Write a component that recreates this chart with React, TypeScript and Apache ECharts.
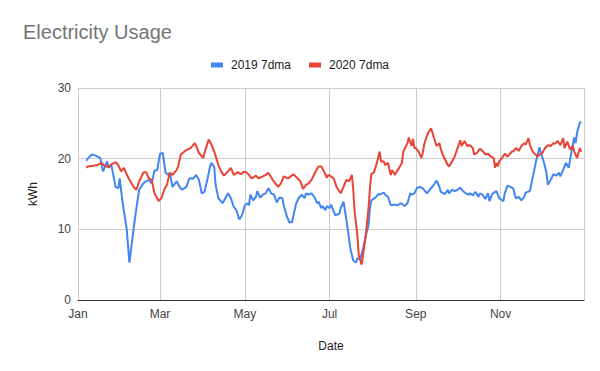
import React, { useEffect, useRef } from "react";
import * as echarts from "echarts";

// Day-of-year offsets (0 = Jan 1) and 7-day moving average values (kWh)
const days2019 = [6, 7, 10, 13, 16, 18, 21, 22, 24, 27, 29, 30, 32, 35, 37, 40, 42, 44, 47, 49, 51, 53, 55, 57, 59, 61, 63, 65, 66, 68, 71, 73, 75, 78, 80, 83, 85, 87, 89, 91, 93, 95, 96, 98, 99, 101, 104, 106, 108, 110, 112, 114, 116, 118, 120, 122, 123, 124, 126, 128, 129, 131, 133, 135, 137, 139, 141, 143, 145, 147, 148, 150, 152, 154, 155, 157, 159, 161, 163, 164, 166, 168, 170, 172, 173, 175, 176, 178, 179, 181, 182, 184, 185, 188, 189, 191, 192, 194, 196, 198, 200, 201, 203, 205, 207, 209, 210, 211, 214, 216, 217, 220, 221, 223, 225, 228, 230, 232, 235, 237, 239, 240, 242, 244, 246, 248, 251, 253, 256, 258, 260, 261, 264, 266, 267, 269, 271, 273, 275, 277, 279, 281, 282, 284, 286, 288, 289, 291, 293, 295, 296, 298, 300, 301, 303, 306, 307, 309, 311, 313, 315, 317, 319, 321, 322, 325, 326, 328, 330, 332, 333, 335, 337, 338, 340, 342, 344, 346, 347, 349, 351, 353, 355, 357, 358, 359, 361, 362];
const kwh2019 = [19.7, 20.0, 20.6, 20.4, 20.1, 18.2, 19.6, 18.7, 19.1, 16.0, 15.8, 17.2, 13.9, 10.1, 5.3, 10.1, 13.0, 15.6, 16.5, 16.8, 17.0, 16.5, 18.3, 18.4, 20.7, 20.8, 18.0, 17.7, 18.0, 16.0, 16.8, 16.0, 15.6, 16.0, 17.2, 17.2, 17.7, 17.0, 15.1, 15.3, 17.0, 18.9, 19.4, 18.8, 16.3, 14.4, 13.7, 14.4, 15.1, 14.4, 13.2, 12.7, 11.4, 12.0, 13.4, 13.7, 13.4, 14.9, 14.1, 14.6, 15.4, 14.5, 14.9, 15.1, 15.8, 15.1, 14.9, 13.8, 14.5, 14.4, 13.4, 12.0, 11.0, 11.0, 12.0, 13.7, 14.5, 14.9, 14.4, 15.1, 14.9, 15.1, 14.6, 13.7, 13.9, 13.0, 13.3, 12.7, 13.3, 13.0, 13.5, 12.5, 12.0, 12.2, 13.0, 13.9, 12.7, 10.1, 7.2, 5.6, 5.3, 5.9, 5.8, 7.2, 9.1, 10.6, 13.0, 14.1, 14.5, 15.0, 14.9, 15.2, 14.9, 14.6, 13.4, 13.5, 13.4, 13.7, 13.3, 13.7, 15.1, 14.9, 15.1, 15.9, 16.0, 15.8, 15.1, 15.6, 16.3, 16.9, 16.0, 15.3, 15.0, 15.6, 15.1, 15.6, 15.4, 15.6, 15.9, 15.4, 15.1, 14.9, 15.1, 14.8, 15.3, 14.6, 15.1, 14.9, 14.3, 15.1, 14.0, 15.0, 15.3, 15.4, 14.4, 14.0, 15.1, 16.2, 16.0, 15.8, 14.4, 14.6, 14.1, 14.6, 15.2, 15.4, 16.3, 18.2, 20.1, 21.6, 20.8, 19.6, 18.0, 16.3, 17.0, 17.8, 17.6, 18.0, 17.5, 18.4, 19.4, 18.7, 21.0, 23.0, 22.2, 23.7, 25.1, 25.2];

const days2020 = [6, 7, 11, 14, 17, 19, 22, 24, 27, 29, 31, 33, 35, 37, 40, 42, 44, 47, 49, 51, 53, 55, 58, 60, 62, 64, 66, 68, 71, 72, 74, 77, 79, 81, 84, 85, 87, 90, 92, 94, 96, 98, 101, 103, 105, 108, 110, 112, 115, 117, 119, 121, 123, 125, 128, 130, 133, 135, 137, 140, 142, 144, 146, 148, 151, 153, 155, 158, 160, 162, 164, 166, 168, 171, 173, 175, 177, 179, 180, 182, 184, 186, 189, 191, 193, 195, 197, 198, 199, 201, 202, 204, 205, 207, 209, 210, 211, 213, 215, 217, 218, 220, 221, 223, 225, 226, 228, 229, 231, 233, 234, 236, 237, 238, 240, 241, 242, 243, 245, 247, 248, 249, 251, 252, 254, 256, 258, 260, 261, 263, 266, 267, 269, 271, 273, 275, 276, 278, 280, 282, 284, 285, 287, 289, 291, 293, 295, 297, 299, 300, 301, 302, 303, 305, 307, 309, 312, 313, 315, 317, 319, 321, 322, 324, 325, 327, 329, 331, 332, 334, 336, 338, 340, 342, 343, 345, 347, 349, 350, 352, 354, 356, 357, 359, 361, 362];
const kwh2020 = [18.7, 18.9, 19.0, 19.1, 19.4, 19.0, 18.8, 19.2, 19.5, 19.1, 18.2, 18.7, 17.8, 17.0, 16.0, 15.6, 16.8, 18.0, 18.1, 17.2, 17.0, 15.1, 14.0, 14.4, 15.6, 16.3, 18.0, 17.7, 18.4, 18.9, 20.6, 21.1, 21.3, 21.5, 22.2, 21.8, 20.8, 20.1, 21.5, 22.7, 22.0, 21.0, 19.1, 18.2, 17.6, 18.2, 18.7, 17.7, 18.1, 17.8, 18.1, 18.1, 17.7, 17.2, 17.6, 17.2, 17.5, 17.7, 18.0, 17.0, 16.5, 16.0, 16.5, 17.5, 17.2, 17.5, 17.8, 17.2, 16.8, 15.7, 16.3, 16.5, 17.0, 18.2, 18.9, 18.9, 18.2, 17.3, 17.7, 17.5, 17.2, 16.0, 15.1, 16.0, 17.0, 16.8, 17.7, 15.6, 12.5, 9.1, 6.3, 5.0, 6.3, 9.1, 13.0, 15.8, 17.8, 18.1, 19.4, 21.0, 19.6, 19.6, 19.1, 19.4, 17.7, 18.4, 17.7, 18.1, 18.7, 19.4, 21.0, 21.8, 22.2, 23.0, 21.8, 22.8, 21.5, 21.5, 21.0, 20.1, 20.8, 22.0, 23.2, 23.7, 24.3, 23.0, 21.8, 22.2, 21.3, 20.3, 19.1, 18.9, 19.6, 20.3, 21.5, 22.6, 21.8, 22.5, 21.8, 21.9, 21.5, 20.6, 20.8, 21.4, 21.1, 20.6, 20.7, 20.3, 20.1, 18.7, 19.4, 18.9, 19.6, 20.1, 20.7, 20.3, 21.0, 21.0, 21.5, 21.1, 21.8, 22.2, 22.0, 22.9, 22.0, 21.0, 20.6, 20.3, 20.6, 20.8, 21.5, 21.9, 21.8, 22.2, 22.1, 22.5, 21.9, 22.9, 21.5, 22.4, 21.3, 21.8, 21.0, 20.1, 21.5, 21.0];

const seriesNames = ["2019 7dma", "2020 7dma"];
const monthLabels = ["Jan", "Feb", "Mar", "Apr", "May", "Jun", "Jul", "Aug", "Sep", "Oct", "Nov", "Dec"];
const yTicks = [0, 10, 20, 30];
const axisYear = 2019;

const FONT = "Arial, 'Liberation Sans', sans-serif";

function toPoints(days: number[], vals: number[]) {
  return days.map((d, i) => [new Date(axisYear, 0, 1 + d).getTime(), vals[i]]);
}

export default function App() {
  const ref = useRef<HTMLDivElement>(null);
  useEffect(() => {
    if (!ref.current) return;
    const chart = echarts.init(ref.current, undefined, { renderer: "svg" });
    chart.setOption({
      animation: false,
      backgroundColor: "#ffffff",
      textStyle: { fontFamily: FONT },
      title: {
        text: "Electricity Usage",
        left: 18,
        top: 17,
        textStyle: { fontFamily: FONT, fontSize: 20, fontWeight: "normal", color: "#757575" },
      },
      legend: {
        data: seriesNames,
        left: "center",
        top: 54,
        icon: "rect",
        itemWidth: 12,
        itemHeight: 5,
        itemGap: 18,
        textStyle: { fontFamily: FONT, fontSize: 12, color: "#222222", padding: [0, 0, 0, 3] },
      },
      grid: { left: 78, right: 16, top: 88, bottom: 71, containLabel: false },
      xAxis: {
        type: "time",
        min: new Date(axisYear, 0, 1).getTime(),
        max: new Date(axisYear, 11, 31).getTime(),
        splitNumber: 6,
        name: "Date",
        nameLocation: "middle",
        nameGap: 40,
        nameTextStyle: { fontFamily: FONT, fontSize: 12, color: "#222222" },
        axisLine: { show: true, lineStyle: { color: "#333333", width: 1 } },
        axisTick: { show: false },
        axisLabel: {
          fontFamily: FONT,
          fontSize: 12,
          color: "#444444",
          margin: 8,
          hideOverlap: false,
          formatter: (v: number) => monthLabels[new Date(v).getMonth()],
        },
        splitLine: { show: true, lineStyle: { color: "#cccccc", width: 1 } },
      },
      yAxis: {
        type: "value",
        min: yTicks[0],
        max: yTicks[yTicks.length - 1],
        interval: 10,
        name: "kWh",
        nameLocation: "middle",
        nameGap: 39,
        nameTextStyle: { fontFamily: FONT, fontSize: 12, color: "#222222" },
        axisLine: { show: false },
        axisTick: { show: false },
        axisLabel: { fontFamily: FONT, fontSize: 12, color: "#444444", margin: 7 },
        splitLine: { show: true, lineStyle: { color: "#cccccc", width: 1 } },
      },
      series: [
        {
          name: seriesNames[0],
          type: "line",
          data: toPoints(days2019, kwh2019),
          showSymbol: false,
          symbol: "none",
          color: "#4285f4",
          lineStyle: { color: "#4285f4", width: 2 },
        },
        {
          name: seriesNames[1],
          type: "line",
          data: toPoints(days2020, kwh2020),
          showSymbol: false,
          symbol: "none",
          color: "#ea4335",
          lineStyle: { color: "#ea4335", width: 2 },
        },
      ],
    });
    return () => chart.dispose();
  }, []);
  return (
    <div
      ref={ref}
      style={{ position: "fixed", left: 0, top: 0, width: 600, height: 371, background: "#fff" }}
    />
  );
}
